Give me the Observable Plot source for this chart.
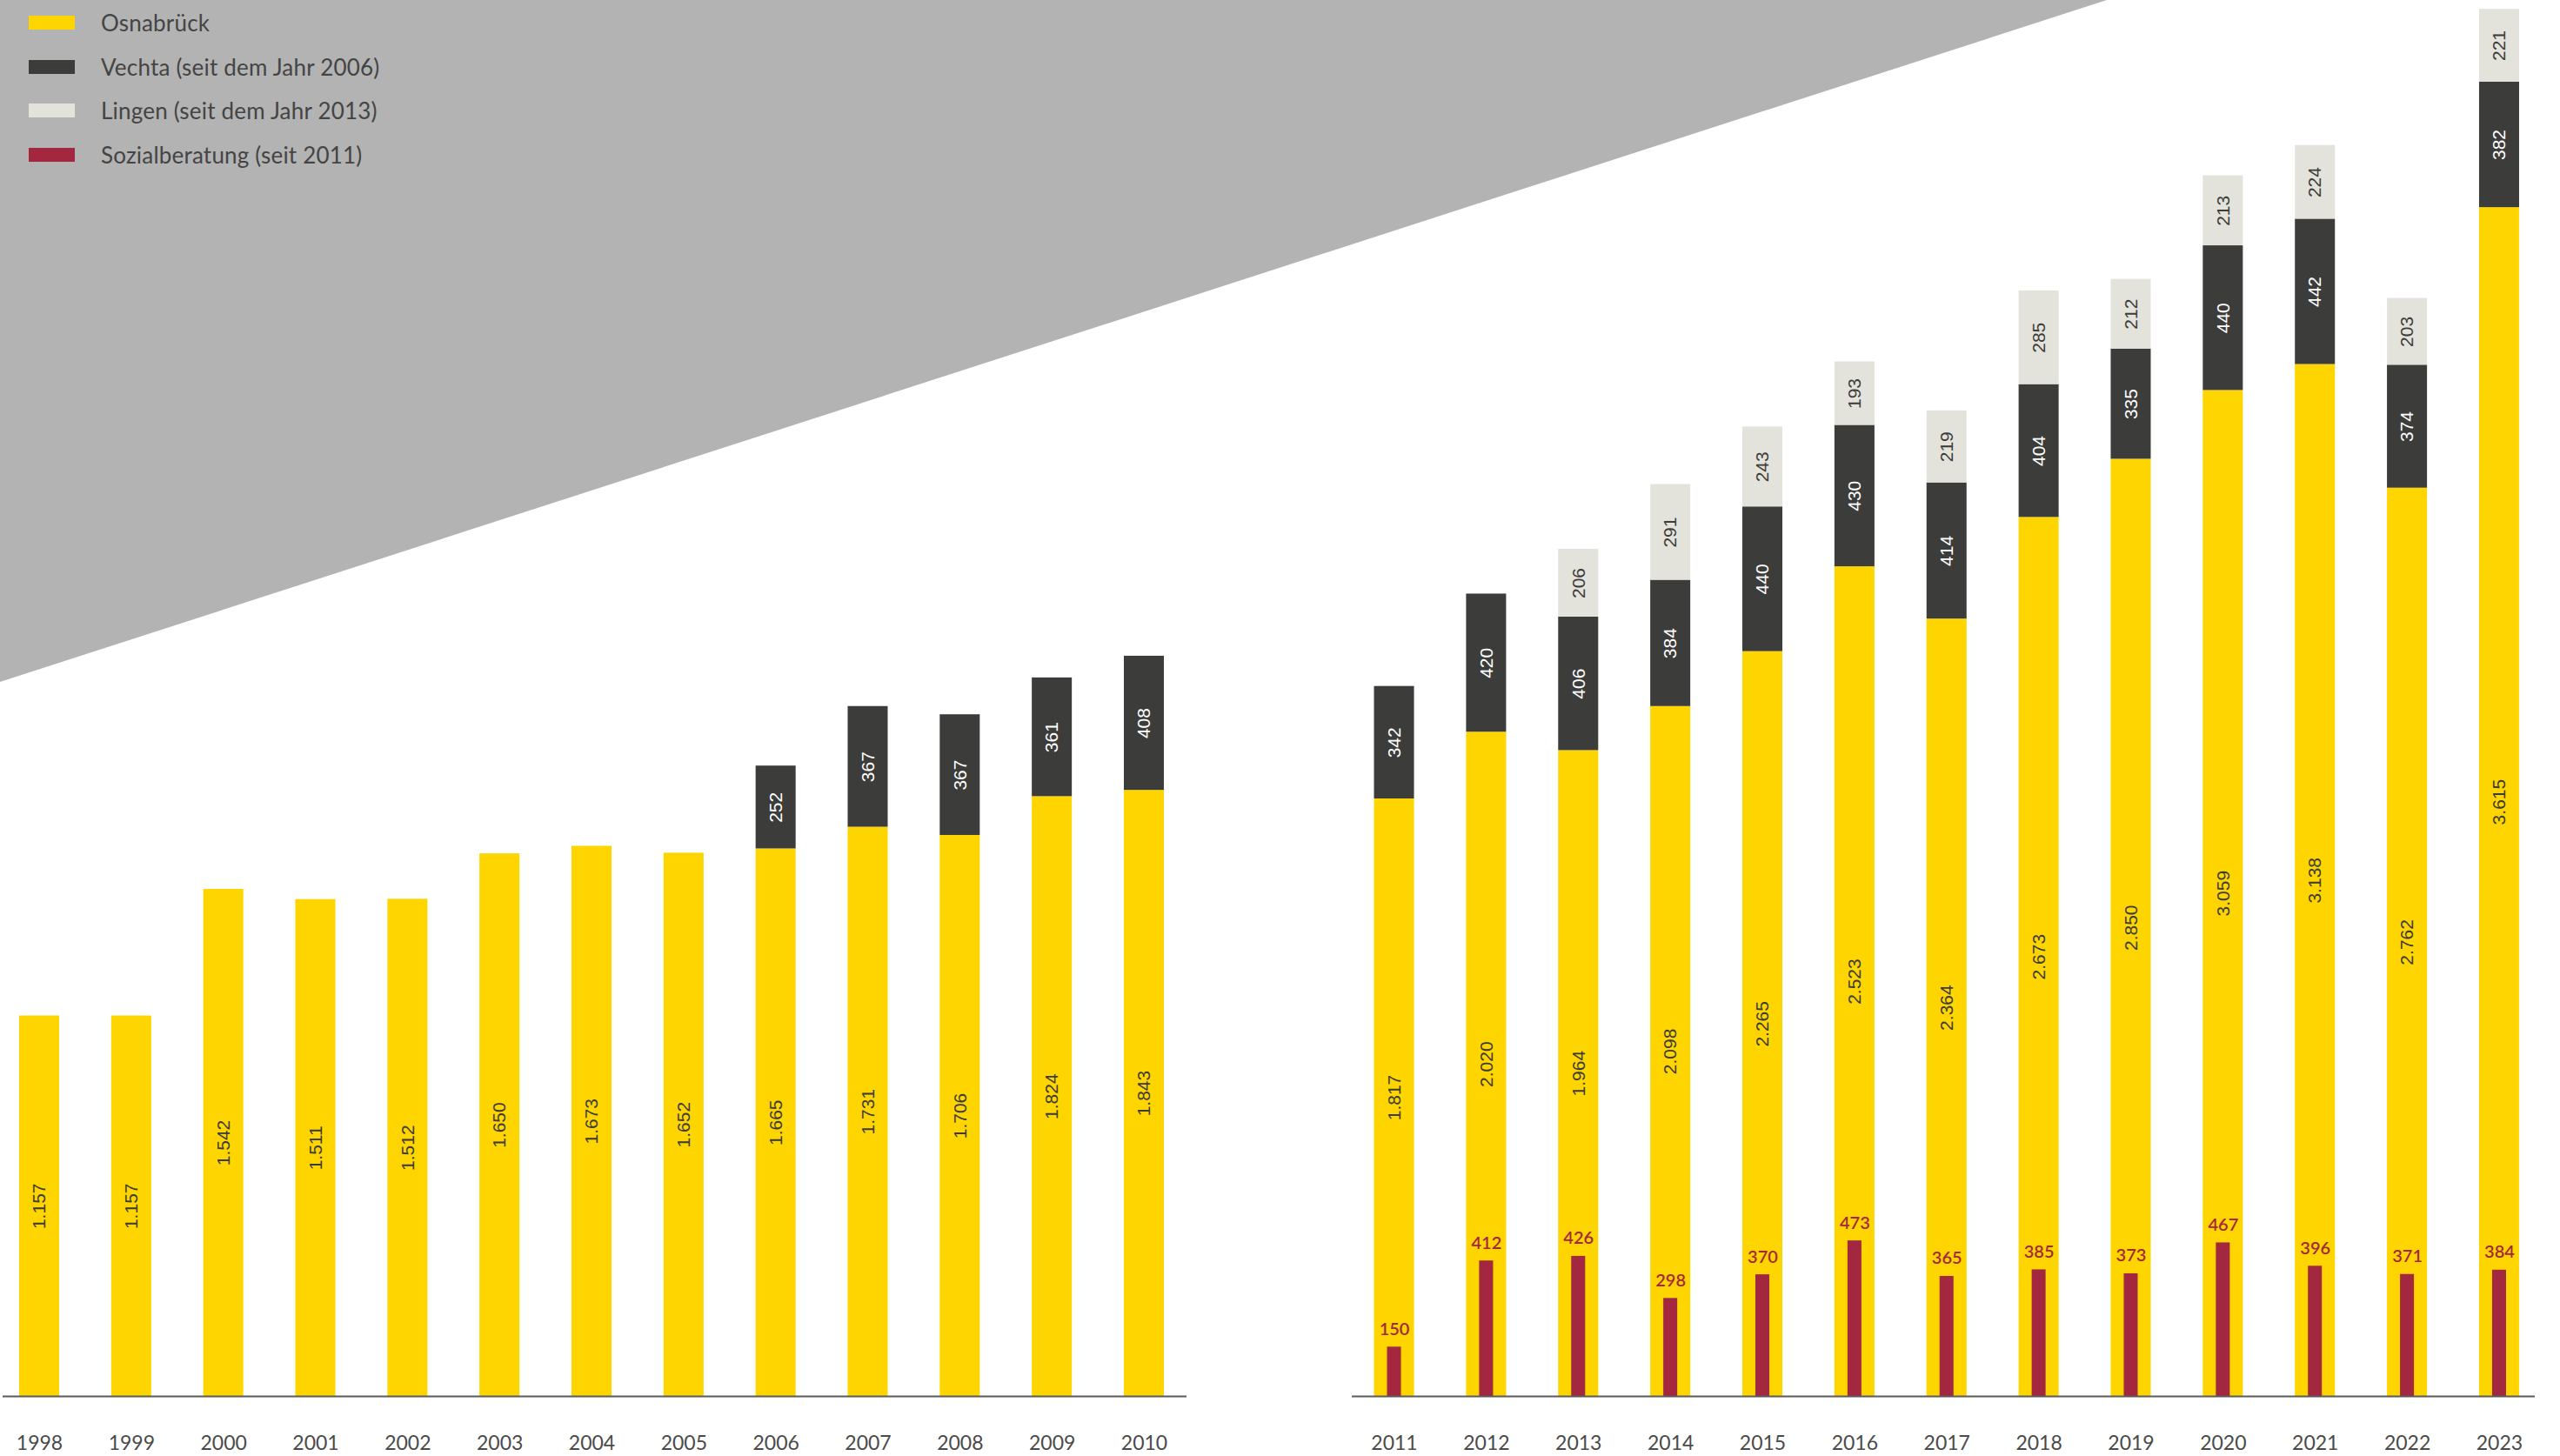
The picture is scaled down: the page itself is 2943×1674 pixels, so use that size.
<!DOCTYPE html>
<html>
<head>
<meta charset="utf-8">
<script src="https://cdn.jsdelivr.net/npm/d3@7"></script>
<script src="https://cdn.jsdelivr.net/npm/@observablehq/plot@0.6"></script>
<style>
  html, body { margin: 0; padding: 0; background: #fff; }
  #root { position: relative; width: 2943px; height: 1674px; overflow: hidden; background: #fff; }
  #bg { position: absolute; left: 0; top: 0; width: 2943px; height: 1674px; background: #b3b3b3;
        clip-path: polygon(0 0, 2422px 0, 0 784px); }
  #left { position: absolute; left: 0; top: 0; width: 1470px; height: 1674px; }
  #right { position: absolute; left: 1470px; top: 0; width: 1473px; height: 1674px; }
  #legend { position: absolute; left: 33px; top: 0; font-family: Lato, "Open Sans", sans-serif; }
  .row { position: absolute; left: 0; display: flex; align-items: center; white-space: nowrap; }
  .sw { width: 53px; height: 16px; flex: none; }
  .lab { margin-left: 30px; font-size: 26px; line-height: 16px; color: #444; letter-spacing: 0.2px; }
</style>
</head>
<body>
<div id="root">
  <div id="bg"></div>
  <div id="left"></div>
  <div id="right"></div>
  <div id="legend"></div>
</div>
<script>
// ---- data ----
const years = [1998,1999,2000,2001,2002,2003,2004,2005,2006,2007,2008,2009,2010,
               2011,2012,2013,2014,2015,2016,2017,2018,2019,2020,2021,2022,2023];
const osnabrueck = [1157,1157,1542,1511,1512,1650,1673,1652,1665,1731,1706,1824,1843,
                    1817,2020,1964,2098,2265,2523,2364,2673,2850,3059,3138,2762,3615];
const vechta = [null,null,null,null,null,null,null,null,252,367,367,361,408,
                342,420,406,384,440,430,414,404,335,440,442,374,382];
const lingen = [null,null,null,null,null,null,null,null,null,null,null,null,null,
                null,null,206,291,243,193,219,285,212,213,224,203,221];
const sozialberatung = [null,null,null,null,null,null,null,null,null,null,null,null,null,
                        150,412,426,298,370,473,365,385,373,467,396,371,384];
const seriesNames = ["Osnabrück", "Vechta (seit dem Jahr 2006)", "Lingen (seit dem Jahr 2013)", "Sozialberatung (seit 2011)"];
const seriesColors = ["#ffd500", "#3c3c3a", "#e3e3db", "#a3283f"];
const leftYears = years.filter(y => y <= 2010);
const rightYears = years.filter(y => y >= 2011);

// ---- derived tables ----
const fmt = d3.formatLocale({decimal: ",", thousands: ".", grouping: [3], currency: ["", " €"]}).format(",d");
const stacked = [];
years.forEach((year, i) => {
  let base = 0;
  [[seriesNames[0], osnabrueck[i]], [seriesNames[1], vechta[i]], [seriesNames[2], lingen[i]]].forEach(([series, v]) => {
    if (v == null) return;
    stacked.push({year, series, value: v, y1: base, y2: base + v});
    base += v;
  });
});
const soz = years.map((year, i) => ({year, series: seriesNames[3], value: sozialberatung[i]})).filter(d => d.value != null);

// ---- legend ----
const legend = document.getElementById("legend");
seriesNames.forEach((name, i) => {
  const row = document.createElement("div");
  row.className = "row";
  row.style.top = (18 + i * 50.7) + "px";
  row.innerHTML = `<div class="sw" style="background:${seriesColors[i]}"></div><div class="lab">${name}</div>`;
  legend.appendChild(row);
});

function panel(panelYears, width, marginLeft, marginRight, range) {
  const inYears = d => panelYears.includes(d.year);
  const rows = stacked.filter(inYears);
  const srows = soz.filter(inYears);
  const labelMark = (series, fill) => Plot.text(rows.filter(d => d.series === series), {
    x: "year", y: d => (d.y1 + d.y2) / 2, text: d => fmt(d.value),
    rotate: -90, fill, fontSize: 21, fontFamily: "Liberation Sans, Arial, sans-serif",
    textAnchor: "middle", lineAnchor: "middle"
  });
  return Plot.plot({
    width, height: 1674,
    marginLeft, marginRight, marginTop: 0, marginBottom: 69,
    style: {background: "transparent", fontSize: "23px", fontFamily: "Lato, sans-serif", color: "#4a4a4a", overflow: "visible", maxWidth: "none"},
    x: {type: "band", domain: panelYears, range, paddingInner: 0.5653, paddingOuter: 0.2827, align: 0.5, round: false,
        tickSize: 0, tickPadding: 45, tickFormat: d => String(d), label: null},
    y: {domain: [0, 4245], axis: null},
    color: {domain: seriesNames, range: seriesColors},
    marks: [
      Plot.barY(rows, {x: "year", y1: "y1", y2: "y2", fill: "series"}),
      Plot.barY(srows, {x: "year", y1: 0, y2: "value", fill: "series", insetLeft: 15, insetRight: 15}),
      labelMark(seriesNames[0], "#3c3c3a"),
      labelMark(seriesNames[1], "#ffffff"),
      labelMark(seriesNames[2], "#3c3c3a"),
      Plot.text(srows, {x: "year", y: "value", text: d => fmt(d.value), dy: -14, lineAnchor: "bottom",
        fill: "#a3283f", fontSize: 20, fontWeight: 600, fontFamily: "Lato, sans-serif"}),
      Plot.ruleY([0], {stroke: "#5a5a5a", strokeWidth: 2})
    ]
  });
}

document.getElementById("left").appendChild(panel(leftYears, 1470, 3, 106, [-7.9, 1367.9]));
document.getElementById("right").appendChild(panel(rightYears, 1473, 84, 29, [79.6, 1455.9]));
</script>
</body>
</html>
